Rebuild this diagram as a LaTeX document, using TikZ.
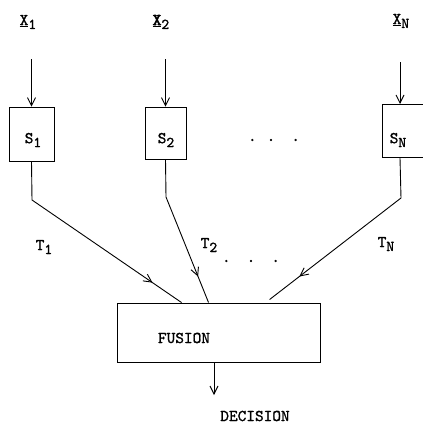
\documentclass[tikz,border=0pt]{standalone}
\usepackage{fontspec}
\setmonofont{lmmono10-regular.otf}[FakeBold=1.2]
\newfontfamily\boldtt{lmmono10-regular.otf}[FakeBold=3.5]
\usetikzlibrary{arrows.meta,decorations.markings,calc}
\newcommand{\sbs}[1]{\raisebox{-0.55ex}{\fontsize{15}{15}\selectfont #1}}
\begin{document}
\begin{tikzpicture}[x=1pt,y=-1pt,
  box/.style={draw,line width=0.9pt,inner sep=0pt},
  lbl/.style={font=\fontsize{16.5}{16.5}\selectfont\ttfamily,inner sep=0pt},
  ln/.style={line width=0.9pt},
  inarrow/.style={ln,-{Straight Barb[length=8pt,width=8pt,line width=0.9pt]}},
  midarrow/.style={ln,postaction={decorate},decoration={markings,mark=at position #1 with {\arrow{Straight Barb[length=8pt,width=8pt,line width=0.9pt]}}}}
]
\useasboundingbox (0,0) rectangle (423,426);
\clip (0,0) rectangle (423,426);

% sensor boxes
\node[box,minimum width=45pt,minimum height=54pt] (s1) at (31.5,134) {};
\node[box,minimum width=41pt,minimum height=52pt] (s2) at (165.5,133) {};
\node[box,minimum width=60pt,minimum height=53pt,anchor=north west] (sn) at (382,104) {};
\node[lbl] (s1t) at (33,140) {S\sbs{1}};
\node[lbl] (s2t) at (166,140) {S\sbs{2}};
\node[lbl] (snt) at (398,140) {S\sbs{N}};
\node[lbl] (dots1) at (274,140) {.\hspace{10pt}.\hspace{16pt}.};

% fusion
\node[box,minimum width=203pt,minimum height=59pt] (fus) at (218.5,332.5) {};
\node[lbl] (fl) at (184,338) {FUSION};
\node[lbl] (dec) at (255,416) {DECISION};

% input labels
\node[lbl] (x1) at (28,22) {\underline{X}\sbs{1}};
\node[lbl] (x2) at (161,22) {{\boldtt\underline{X}}\sbs{2}};
\node[lbl] (xn) at (401,21) {\underline{X}\sbs{N}};

% input arrows
\coordinate (i1) at (31.5,59);
\coordinate (i2) at (165.5,59);
\coordinate (in) at (400,62);
\draw[inarrow] (i1) -- (s1.north);
\draw[inarrow] (i2) -- (s2.north);
\draw[inarrow] (in) -- (in |- sn.north);

% transmission lines
\coordinate (c1) at (32,200);
\coordinate (c2) at (166,197);
\coordinate (cn) at (401,198);
\coordinate (f1) at ($(fus.north west)+(65,0)$);
\coordinate (f2) at ($(fus.north west)+(92,0)$);
\coordinate (fn) at ($(fus.north west)+(153,-3)$);
\draw[midarrow=0.84] (s1.south) -- (c1) -- (f1);
\draw[midarrow=0.815] (s2.south) -- (c2) -- (f2);
\draw[midarrow=0.817] (in |- sn.south) -- (cn) -- (fn);

\node[lbl] (t1) at (44,247) {T\sbs{1}};
\node[lbl] (t2) at (209,245) {T\sbs{2}};
\node[lbl] (dots2) at (251,261) {.\hspace{16pt}.\hspace{16pt}.};
\node[lbl] (tn) at (386,244) {T\sbs{N}};

% decision arrow
\coordinate (d) at (214,395);
\draw[inarrow] (d |- fus.south) -- (d);
\end{tikzpicture}
\end{document}
